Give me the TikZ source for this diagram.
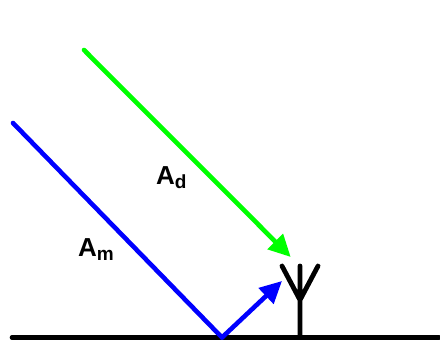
\documentclass[tikz,border=0pt]{standalone}
\usepackage{fontspec}
\setmainfont{Liberation Sans}
\usetikzlibrary{arrows.meta}
\tikzset{
 ray/.style={line width=4.6pt,line cap=round,-{Triangle[length=22pt,width=21pt]}},
 rayplain/.style={line width=4.6pt,line cap=round},
 ant/.style={line width=4.8pt,black,line cap=round},
 lab/.style={inner sep=0pt,font=\bfseries\fontsize{26}{28}\selectfont}
}
\newcommand{\lowsub}[1]{\raisebox{-4pt}{\fontsize{19}{20}\selectfont #1}}
\begin{document}
\begin{tikzpicture}[x=1pt,y=-1pt]
\useasboundingbox (0,0) rectangle (440,344);
\coordinate (a1) at (84,50);
\coordinate (a2) at (290.7,257);
\coordinate (b1) at (13,123);
\coordinate (b2) at (222,337.5);
\coordinate (b3) at (282,281);
\coordinate (g1) at (12,337.5);
\coordinate (g2) at (439,337.5);
\coordinate (t) at (300,337.5);
\coordinate (m) at (300,300);
\coordinate (c) at (300,266);
\coordinate (l) at (282,266);
\coordinate (r) at (318,266);
\draw[line width=4.6pt,line cap=round] (g1) -- (g2);
\draw[ant] (t) -- (c) (l) -- (m) -- (r);
\draw[rayplain,blue] (b1) -- (b2);
\draw[ray,blue] (b2) -- (b3);
\draw[ray,green] (a1) -- (a2);
\node[lab,anchor=base west] (am) at (78,257) {A\lowsub{m}};
\node[lab,anchor=base west] (ad) at (156,185) {A\lowsub{d}};
\end{tikzpicture}
\end{document}
